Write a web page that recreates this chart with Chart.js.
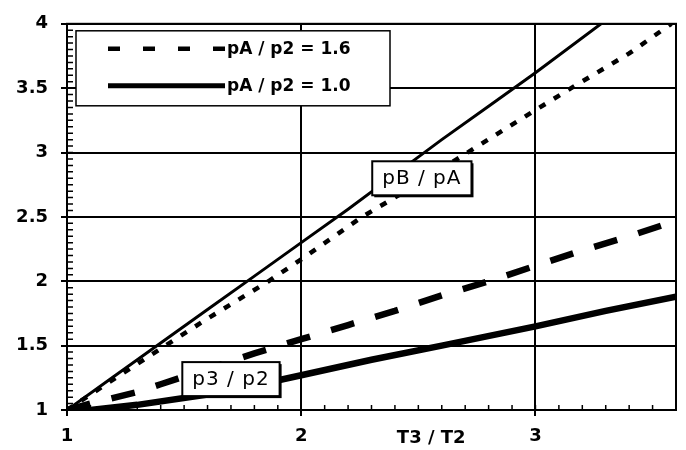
<!DOCTYPE html>
<html>
<head>
<meta charset="utf-8">
<script src="https://cdn.jsdelivr.net/npm/chart.js@4.4.0/dist/chart.umd.min.js"></script>
<style>
  html, body { margin: 0; padding: 0; background: #fff; }
  #wrap { width: 686px; height: 450px; }
</style>
</head>
<body>
<div id="wrap"><canvas id="chart" width="686" height="450"></canvas></div>
<script>
// x = T3 / T2, y = pressure ratio
// pB / pA, pA / p2 = 1.0 (thin solid)
const xPbSolid = [1, 1.2, 1.4, 1.6, 1.8, 2, 2.2, 2.4, 2.6, 2.8, 3, 3.28];
const yPbSolid = [1, 1.26, 1.52, 1.78, 2.04, 2.3, 2.56, 2.83, 3.1, 3.36, 3.62, 4.0];
// pB / pA, pA / p2 = 1.6 (dotted)
const xPbDot = [1, 1.2, 1.42, 1.6, 1.86, 2, 2.26, 2.5, 2.71, 3, 3.17, 3.4, 3.58];
const yPbDot = [1, 1.24, 1.5, 1.71, 2, 2.17, 2.5, 2.76, 3.0, 3.33, 3.52, 3.77, 4.0];
// p3 / p2, pA / p2 = 1.6 (thick dashed)
const xP3Dash = [1, 1.1, 1.3, 1.4, 1.6, 1.8, 2, 2.2, 2.4, 2.6, 2.8, 3, 3.2, 3.4, 3.6];
const yP3Dash = [1, 1.05, 1.14, 1.2, 1.32, 1.44, 1.55, 1.66, 1.77, 1.89, 2.0, 2.12, 2.24, 2.35, 2.47];
// p3 / p2, pA / p2 = 1.0 (thick solid)
const xP3Solid = [1, 1.1, 1.3, 1.6, 1.8, 2, 2.3, 2.6, 3, 3.3, 3.6];
const yP3Solid = [1, 1.0, 1.04, 1.12, 1.19, 1.27, 1.39, 1.5, 1.65, 1.77, 1.88];

const legendLabels = ['pA / p2 = 1.6', 'pA / p2 = 1.0'];
const curveLabels = ['pB / pA', 'p3 / p2'];
const curveLabelX = [2.515, 1.70];
const curveLabelY = [2.80, 1.24];
const xTitle = 'T3 / T2';
const xTitleAt = 2.555;

const pts = (xs, ys) => xs.map((v, i) => ({ x: v, y: ys[i] }));
const FONT = '"DejaVu Sans", sans-serif';

function isMajorX(v) { return Math.abs(v - Math.round(v)) < 1e-6; }
function isMajorY(v) { return Math.abs(v * 2 - Math.round(v * 2)) < 1e-6; }

const paperPlugin = {
  id: 'paper',
  afterDatasetsDraw(chart) {
    const { ctx, chartArea: a, scales: { x, y } } = chart;
    ctx.save();

    // frame
    ctx.strokeStyle = '#000';
    ctx.lineWidth = 2;
    ctx.strokeRect(a.left, a.top, a.right - a.left, a.bottom - a.top);

    // minor ticks pointing inward
    ctx.lineWidth = 1.5;
    ctx.beginPath();
    x.ticks.forEach(t => {
      const px = x.getPixelForValue(t.value);
      ctx.moveTo(px, a.bottom);
      ctx.lineTo(px, a.bottom - 5);
    });
    y.ticks.forEach(t => {
      const py = y.getPixelForValue(t.value);
      ctx.moveTo(a.left, py);
      ctx.lineTo(a.left + 6, py);
    });
    ctx.stroke();

    // curve labels in boxes
    ctx.font = '20px ' + FONT;
    ctx.textBaseline = 'middle';
    ctx.textAlign = 'left';
    curveLabels.forEach((txt, i) => {
      ctx.letterSpacing = '1px';
      const w = ctx.measureText(txt).width;
      const cx = x.getPixelForValue(curveLabelX[i]);
      const cy = y.getPixelForValue(curveLabelY[i]);
      const bw = w + 20, bh = 34;
      const bx = cx - bw / 2, by = cy - bh / 2;
      ctx.fillStyle = '#000';
      ctx.fillRect(bx + 2, by + 2, bw, bh);
      ctx.fillStyle = '#fff';
      ctx.fillRect(bx, by, bw, bh);
      ctx.strokeStyle = '#000';
      ctx.lineWidth = 2;
      ctx.strokeRect(bx, by, bw, bh);
      ctx.fillStyle = '#000';
      ctx.fillText(txt, bx + 10, cy + 1);
      ctx.letterSpacing = '0px';
    });

    // legend
    const lx = a.left + 9, ly = a.top + 7, lw = 314, lh = 75;
    ctx.fillStyle = '#fff';
    ctx.fillRect(lx, ly, lw, lh);
    ctx.strokeStyle = '#000';
    ctx.lineWidth = 1.5;
    ctx.strokeRect(lx, ly, lw, lh);
    const legendDash = [[12, 23], []];
    const legendWidth = [4.5, 5];
    ctx.font = 'bold 17px ' + FONT;
    legendLabels.forEach((txt, i) => {
      const ry = ly + 18 + i * 37;
      ctx.beginPath();
      ctx.setLineDash(legendDash[i]);
      ctx.lineWidth = legendWidth[i];
      ctx.moveTo(lx + 32, ry);
      ctx.lineTo(lx + 149, ry);
      ctx.stroke();
      ctx.setLineDash([]);
      ctx.fillStyle = '#000';
      ctx.fillText(txt, lx + 151, ry + 1);
    });

    // x axis title placed among the tick labels
    ctx.font = 'bold 18px ' + FONT;
    ctx.textAlign = 'center';
    ctx.fillText(xTitle, x.getPixelForValue(xTitleAt), a.bottom + 28);

    ctx.restore();
  }
};

const ctx = document.getElementById('chart').getContext('2d');
new Chart(ctx, {
  type: 'line',
  data: {
    datasets: [
      { label: 'p3 / p2, pA / p2 = 1.0', data: pts(xP3Solid, yP3Solid), borderColor: '#000', borderWidth: 6.5 },
      { label: 'p3 / p2, pA / p2 = 1.6', data: pts(xP3Dash, yP3Dash), borderColor: '#000', borderWidth: 6.5, borderDash: [24, 22] },
      { label: 'pB / pA, pA / p2 = 1.6', data: pts(xPbDot, yPbDot), borderColor: '#000', borderWidth: 4.5, borderDash: [7, 10] },
      { label: 'pB / pA, pA / p2 = 1.0', data: pts(xPbSolid, yPbSolid), borderColor: '#000', borderWidth: 3 }
    ]
  },
  options: {
    responsive: false,
    devicePixelRatio: 1,
    animation: false,
    layout: { padding: { top: 14, right: 8, left: 0, bottom: 0 } },
    elements: { point: { radius: 0 }, line: { tension: 0, borderCapStyle: 'butt', fill: false } },
    plugins: { legend: { display: false }, tooltip: { enabled: false } },
    scales: {
      x: {
        type: 'linear',
        min: 1,
        max: 3.6,
        afterFit: s => { s.height = 40; },
        ticks: {
          stepSize: 0.1,
          autoSkip: false,
          maxRotation: 0,
          padding: 10,
          color: '#000',
          font: { family: FONT, size: 18, weight: 'bold' },
          callback: v => isMajorX(v) ? String(Math.round(v)) : ''
        },
        grid: {
          color: c => (c.tick && isMajorX(c.tick.value)) ? '#000' : 'rgba(0,0,0,0)',
          tickColor: c => (c.tick && isMajorX(c.tick.value)) ? '#000' : 'rgba(0,0,0,0)',
          lineWidth: 2,
          tickLength: 6
        },
        border: { display: true, color: '#000', width: 2 }
      },
      y: {
        min: 1,
        max: 4,
        afterFit: s => { s.width = 67; },
        ticks: {
          stepSize: 0.05,
          autoSkip: false,
          padding: 13,
          color: '#000',
          font: { family: FONT, size: 18, weight: 'bold' },
          callback: v => isMajorY(v) ? String(Math.round(v * 10) / 10) : ''
        },
        grid: {
          color: c => (c.tick && isMajorY(c.tick.value)) ? '#000' : 'rgba(0,0,0,0)',
          tickColor: c => (c.tick && isMajorY(c.tick.value)) ? '#000' : 'rgba(0,0,0,0)',
          lineWidth: 2,
          tickLength: 6
        },
        border: { display: true, color: '#000', width: 2 }
      }
    }
  },
  plugins: [paperPlugin]
});
</script>
</body>
</html>
